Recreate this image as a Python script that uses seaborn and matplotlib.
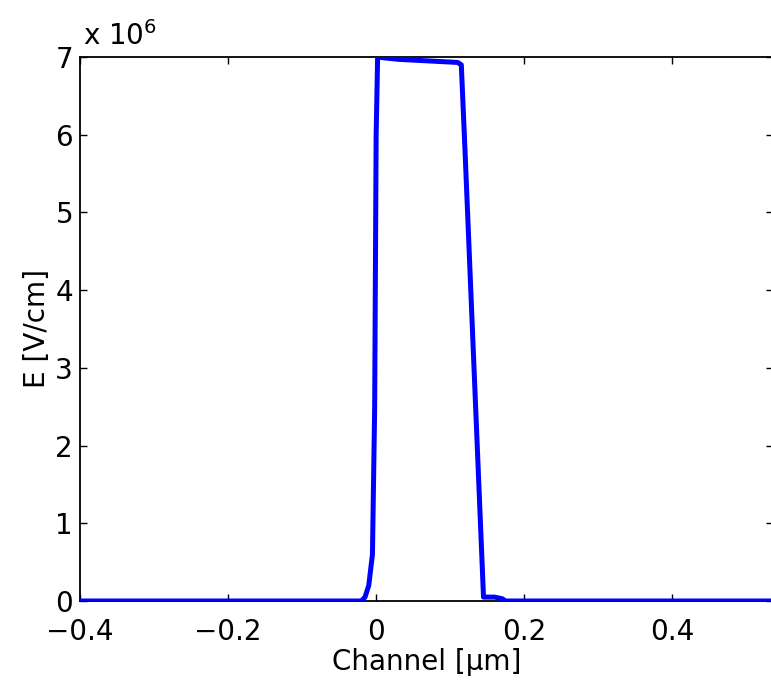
import pandas as pd
import matplotlib
matplotlib.use('Agg')
import matplotlib.pyplot as plt
import seaborn as sns

# Field profile along the channel (E in units of 1e6 V/cm)
channel_um = [-0.4, -0.02, -0.015, -0.01, -0.005, -0.002, 0.0, 0.002, 0.01, 0.02,
              0.03, 0.05, 0.07, 0.09, 0.11, 0.115, 0.12, 0.125, 0.13, 0.135,
              0.14, 0.145, 0.15, 0.16, 0.17, 0.175, 0.536]
e_field = [0.0, 0.0, 0.05, 0.2, 0.6, 2.5, 6.0, 7.0, 6.99, 6.98,
           6.97, 6.96, 6.95, 6.94, 6.93, 6.9, 5.8, 4.65, 3.5, 2.35,
           1.2, 0.05, 0.05, 0.05, 0.03, 0.0, 0.0]
x_ticks = [-0.4, -0.2, 0, 0.2, 0.4]
x_labels = ['\u22120.4', '\u22120.2', '0', '0.2', '0.4']
y_ticks = [0, 1, 2, 3, 4, 5, 6, 7]

df = pd.DataFrame({'Channel': channel_um, 'E': e_field})

sns.set_style('ticks')
plt.rcParams['font.family'] = ['DejaVu Sans']
plt.rcParams['mathtext.fontset'] = 'dejavusans'
plt.rcParams['text.color'] = 'black'
plt.rcParams['axes.labelcolor'] = 'black'

fig = plt.figure(figsize=(7.71, 6.84), dpi=100)
ax = fig.add_axes([80 / 771, 83 / 684, 693 / 771, 544 / 684])

sns.lineplot(data=df, x='Channel', y='E', ax=ax, color='#0000ff',
             linewidth=3.6, sort=False, zorder=3)

ax.set_xlim(-0.4, 0.536)
ax.set_ylim(0, 7)
ax.set_xticks(x_ticks)
ax.set_xticklabels(x_labels)
ax.set_yticks(y_ticks)
ax.tick_params(direction='in', length=5, width=1.0, top=True, right=True,
               labelsize=20, colors='black')
ax.tick_params(axis='x', pad=12)
ax.tick_params(axis='y', pad=5)
for s in ax.spines.values():
    s.set_linewidth(1.3)
    s.set_color('black')

ax.set_xlabel('Channel [\u03bcm]', fontsize=20, labelpad=2, color='black')
ax.set_ylabel('E [V/cm]', fontsize=20, labelpad=3, color='black')
ax.text(0.004, 1.022, r'x 10$^{6}$', transform=ax.transAxes, fontsize=20,
        ha='left', va='baseline', color='black')

fig.savefig('out.png', dpi=100)
